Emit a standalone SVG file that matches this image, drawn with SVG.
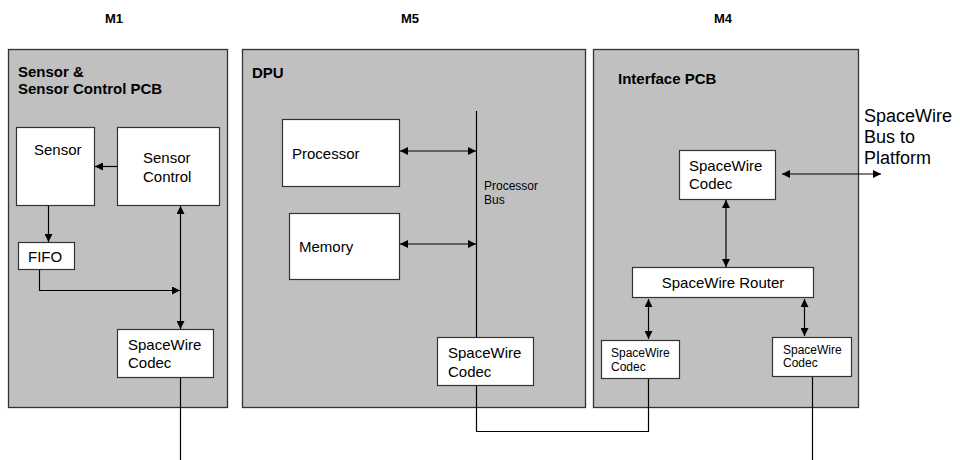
<svg xmlns="http://www.w3.org/2000/svg" width="960" height="460" viewBox="0 0 960 460">
<style>
text{font-family:"Liberation Sans",Arial,sans-serif;fill:#000}
.t{font-size:13px;font-weight:bold}
.h{font-size:15px;font-weight:bold}
.n{font-size:15px}
.s{font-size:12px}
.panel{fill:#c0c0c0;stroke:#333;stroke-width:1.3}
.box{fill:#fff;stroke:#333;stroke-width:1.2}
.ln{fill:none;stroke:#000;stroke-width:1.2}
</style>
<defs>
<marker id="ae" viewBox="0 0 10 10" refX="10" refY="5" markerWidth="8" markerHeight="8" markerUnits="userSpaceOnUse" orient="auto-start-reverse"><path d="M0,0L10,5L0,10z" fill="#000"/></marker>
</defs>
<g id="titles">
<text class="t" x="114" y="23" text-anchor="middle">M1</text>
<text class="t" x="410" y="23" text-anchor="middle">M5</text>
<text class="t" x="723" y="23" text-anchor="middle">M4</text>
</g>
<g id="m1">
<rect class="panel" x="8.5" y="49.5" width="219" height="358"/>
<text class="h" x="18" y="77">Sensor &amp;</text>
<text class="h" x="18" y="94">Sensor Control PCB</text>
</g>
<g id="m5">
<rect class="panel" x="242.5" y="49.5" width="343" height="358"/>
<text class="h" x="252" y="78">DPU</text>
</g>
<g id="m4">
<rect class="panel" x="593.5" y="49.5" width="265" height="358"/>
<text class="h" x="618" y="84">Interface PCB</text>
</g>
<g id="sensor">
<rect class="box" x="16.5" y="127.5" width="78" height="78"/>
<text class="n" x="34" y="155">Sensor</text>
</g>
<g id="sensor-control">
<rect class="box" x="117.5" y="127.5" width="102" height="78"/>
<text class="n" x="143" y="163">Sensor</text>
<text class="n" x="143" y="182">Control</text>
</g>
<g id="fifo">
<rect class="box" x="18.5" y="242.5" width="56" height="27"/>
<text class="n" x="28" y="262">FIFO</text>
</g>
<g id="codec-m1">
<rect class="box" x="117.5" y="329.5" width="96" height="48"/>
<text class="n" x="128" y="350">SpaceWire</text>
<text class="n" x="128" y="368">Codec</text>
</g>
<g id="processor">
<rect class="box" x="282.5" y="119.5" width="117" height="67"/>
<text class="n" x="292" y="159">Processor</text>
</g>
<g id="memory">
<rect class="box" x="289.5" y="213.5" width="110" height="66"/>
<text class="n" x="299" y="252">Memory</text>
</g>
<g id="processor-bus-label">
<text class="s" x="484" y="190">Processor</text>
<text class="s" x="484" y="204">Bus</text>
</g>
<g id="codec-dpu">
<rect class="box" x="437.5" y="337.5" width="96" height="48"/>
<text class="n" x="448" y="358">SpaceWire</text>
<text class="n" x="448" y="377">Codec</text>
</g>
<g id="codec-top">
<rect class="box" x="679.5" y="150.5" width="96" height="49"/>
<text class="n" x="689" y="171">SpaceWire</text>
<text class="n" x="689" y="189">Codec</text>
</g>
<g id="router">
<rect class="box" x="632.5" y="267.5" width="181" height="30"/>
<text class="n" x="723" y="288" text-anchor="middle">SpaceWire Router</text>
</g>
<g id="codec-left">
<rect class="box" x="601.5" y="340.5" width="78" height="38"/>
<text class="s" x="611" y="357">SpaceWire</text>
<text class="s" x="611" y="371">Codec</text>
</g>
<g id="codec-right">
<rect class="box" x="772.5" y="337.5" width="79" height="39"/>
<text class="s" x="783" y="354">SpaceWire</text>
<text class="s" x="783" y="367">Codec</text>
</g>
<g id="platform-label">
<text x="864" y="122" style="font-size:18px">SpaceWire</text>
<text x="864" y="143" style="font-size:18px">Bus to</text>
<text x="864" y="164" style="font-size:18px">Platform</text>
</g>
<g id="connectors">
<line class="ln" x1="117" y1="166.5" x2="95" y2="166.5" marker-end="url(#ae)"/>
<line class="ln" x1="48.5" y1="206" x2="48.5" y2="242" marker-end="url(#ae)"/>
<polyline class="ln" points="39.5,270 39.5,290.5 180,290.5" marker-end="url(#ae)"/>
<line class="ln" x1="180.5" y1="206" x2="180.5" y2="329" marker-start="url(#ae)" marker-end="url(#ae)"/>
<line class="ln" x1="180.5" y1="378" x2="180.5" y2="460"/>
<line class="ln" x1="476.5" y1="111" x2="476.5" y2="337"/>
<line class="ln" x1="400" y1="151" x2="476" y2="151" marker-start="url(#ae)" marker-end="url(#ae)"/>
<line class="ln" x1="400" y1="244" x2="476" y2="244" marker-start="url(#ae)" marker-end="url(#ae)"/>
<polyline class="ln" points="476.5,386 476.5,431.5 648.5,431.5 648.5,379"/>
<line class="ln" x1="782" y1="174" x2="881" y2="174" marker-start="url(#ae)" marker-end="url(#ae)"/>
<line class="ln" x1="726" y1="200" x2="726" y2="267" marker-start="url(#ae)" marker-end="url(#ae)"/>
<line class="ln" x1="648.5" y1="299" x2="648.5" y2="339" marker-start="url(#ae)" marker-end="url(#ae)"/>
<line class="ln" x1="804.5" y1="299" x2="804.5" y2="336" marker-start="url(#ae)" marker-end="url(#ae)"/>
<line class="ln" x1="812.5" y1="377" x2="812.5" y2="460"/>
</g>
</svg>
